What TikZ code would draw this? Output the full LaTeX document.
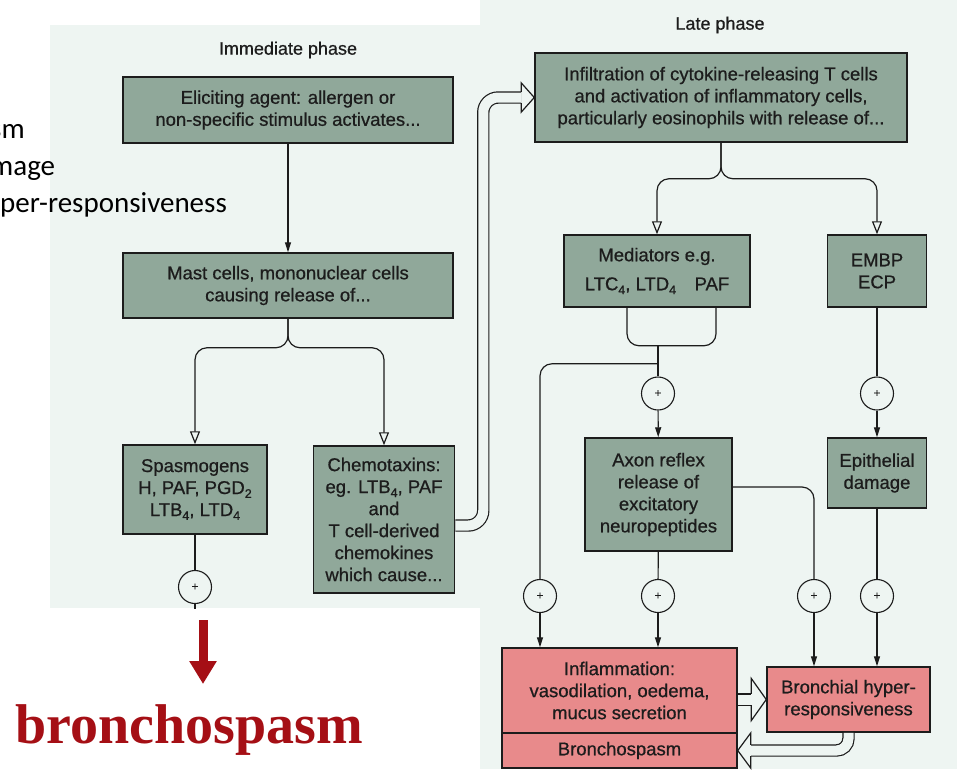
\documentclass[tikz,border=0pt]{standalone}
\usepackage{fontspec}
\setmainfont{Liberation Sans}
\newfontfamily\heavy{Liberation Sans}[FakeBold=0.7]
\newfontfamily\calib{Carlito}
\newfontfamily\serifface{Liberation Serif}
\usetikzlibrary{arrows.meta,calc}

\definecolor{pagebg}{HTML}{EEF5F2}
\definecolor{boxgreen}{HTML}{90A89A}
\definecolor{boxpink}{HTML}{E88A8B}
\definecolor{ink}{HTML}{1C1C1C}
\definecolor{alarm}{HTML}{A50F15}

% lowered small index figures (LTB4, PGD2 ...)
\newcommand\ix[1]{\raisebox{-0.4ex}{\fontsize{12.5}{12.5}\selectfont #1}}

\begin{document}
\begin{tikzpicture}[x=1pt,y=-1pt,
  every node/.style={text=ink},
  box/.style={draw=ink, line width=1.5pt, fill=boxgreen, align=center,
    inner sep=0pt, font=\heavy\fontsize{18.5}{22}\selectfont},
  pbox/.style={box, fill=boxpink},
  plus/.style={circle, draw=ink, line width=1.1pt, fill=pagebg,
    minimum size=33pt, inner sep=0pt, font=\heavy\fontsize{12}{12}\selectfont},
  conn/.style={draw=ink, line width=1.2pt},
  arr/.style={conn, -{Triangle[length=10pt,width=6pt]}},
  oarr/.style={conn, -{Triangle[open,length=13pt,width=10pt]}},
  dbl/.style={draw=ink, line width=1.2pt, double=pagebg, double distance=10pt},
  dblhead/.style={draw=ink, fill=pagebg, line width=1.2pt, line join=miter},
  title/.style={font=\heavy\fontsize{18}{18}\selectfont}
]
\useasboundingbox (0,0) rectangle (957,769);

% page backgrounds
\fill[white] (0,0) rectangle (957,769);
\fill[pagebg] (50,25) rectangle (480,608);
\fill[pagebg] (480,0) rectangle (957,769);

% list fragments at the left edge
\node[anchor=base west, inner sep=0pt, text=black, font=\calib\fontsize{29}{29}\selectfont] (lst1) at (-10,138) {sm};
\node[anchor=base west, inner sep=0pt, text=black, font=\calib\fontsize{29}{29}\selectfont] (lst2) at (-10,175) {mage};
\node[anchor=base west, inner sep=0pt, text=black, font=\calib\fontsize{29}{29}\selectfont] (lst3) at (0,212) {per-responsiveness};

% titles
\node[title] (imm) at (288,50) {Immediate phase};
\node[title] (late) at (720,25) {Late phase};

% immediate phase boxes
\node[box, minimum width=330pt, minimum height=66pt] (elicit) at (288,110)
  {Eliciting agent: allergen or\\non-specific stimulus activates...};
\node[box, minimum width=330pt, minimum height=65pt] (mast) at (288,285.5)
  {Mast cells, mononuclear cells\\causing release of...};
\node[box, minimum width=144pt, minimum height=89pt] (spasm) at (195,489.5)
  {Spasmogens\\H, PAF, PGD\ix{2}\\LTB\ix{4}, LTD\ix{4}};
\node[box, minimum width=141pt, minimum height=147pt] (chemo) at (384,519.5)
  {Chemotaxins:\\eg. LTB\ix{4}, PAF\\and\\T cell-derived\\chemokines\\which cause...};

% late phase boxes
\node[box, minimum width=372pt, minimum height=89pt] (infil) at (721,97.5)
  {Infiltration of cytokine-releasing T cells\\and activation of inflammatory cells,\\particularly eosinophils with release of...};
\node[box, minimum width=186pt, minimum height=72pt] (medi) at (657,271)
  {Mediators e.g.\\[7pt]LTC\ix{4}, LTD\ix{4}\quad PAF};
\node[box, minimum width=99pt, minimum height=72pt] (embp) at (877,271)
  {EMBP\\ECP};
\node[box, minimum width=147pt, minimum height=113pt] (axon) at (658.5,494.5)
  {Axon reflex\\release of\\excitatory\\neuropeptides};
\node[box, minimum width=99pt, minimum height=70pt] (epith) at (877,473)
  {Epithelial\\damage};
\node[pbox, minimum width=235pt, minimum height=85pt] (inflam) at (619.5,690.5)
  {Inflammation:\\vasodilation, oedema,\\mucus secretion};
\node[pbox, minimum width=235pt, minimum height=35pt] (bspasm) at (619.5,750.5)
  {Bronchospasm};
\node[pbox, minimum width=163pt, minimum height=65pt] (bhr) at (848.5,699.5)
  {Bronchial hyper-\\responsiveness};

% plus junctions
\node[plus] (p0) at (195,587) {+};
\node[plus] (p1) at (658,393.5) {+};
\node[plus] (p2) at (877,393.5) {+};
\node[plus] (p3) at (540,596) {+};
\node[plus] (p4) at (658,596) {+};
\node[plus] (p5) at (814,596) {+};
\node[plus] (p6) at (877,596) {+};

% immediate phase connectors
\draw[arr] (elicit) -- (mast);
\draw[oarr, rounded corners=12pt] (mast.south) -- ++(0,29) -| (spasm.north);
\draw[oarr, rounded corners=12pt] (mast.south) -- ++(0,29) -| (chemo.north);
\draw[conn] (spasm) -- (p0);
\draw[conn] (p0.south) -- ++(0,5);

% chemotaxins feed the late phase (hollow double arrow)
\draw[dbl, rounded corners=15pt] ($(chemo.east)+(0,6)$) -| ($(infil.west)+(-51,0)$) -- ($(infil.west)+(-13,0)$);
\filldraw[dblhead] ($(infil.west)+(-13,-5.6)$) -- ++(0,-9) -- (infil.west)
  -- ($(infil.west)+(-13,14.6)$) -- ++(0,-9);

% late phase connectors
\draw[oarr, rounded corners=12pt] (infil.south) -- ++(0,36) -| (medi.north);
\draw[oarr, rounded corners=12pt] (infil.south) -- ++(0,36) -| (embp.north);
\draw[conn, rounded corners=12pt] ($(medi.south)+(-30,0)$) -- ++(0,38) -| ($(medi.south)+(59,0)$);
\coordinate (mj) at ($(medi.south)+(1,38)$);
\coordinate (mb) at ($(medi.south)+(1,56)$);
\draw[conn] (mj) -- (p1);
\draw[arr] (p1) -- (axon);
\draw[conn, rounded corners=12pt] (mb) -| (p3);
\draw[arr] (p3) -- (p3 |- inflam.north);
\draw[conn] (embp) -- (p2);
\draw[arr] (p2) -- (epith);
\draw[conn] (axon) -- (p4);
\draw[arr] (p4) -- (p4 |- inflam.north);
\draw[conn, rounded corners=12pt] ($(axon.east)+(0,-7.5)$) -| (p5);
\draw[arr] (p5) -- (p5 |- bhr.north);
\draw[conn] (epith) -- (p6);
\draw[arr] (p6) -- (p6 |- bhr.north);

% inflammation -> hyper-responsiveness
\draw[dbl] (inflam.east |- bhr.west) -- ($(bhr.west)+(-15,0)$);
\filldraw[dblhead] ($(bhr.west)+(-15,-5.6)$) -- ++(0,-15.5) -- (bhr.west)
  -- ($(bhr.west)+(-15,21.1)$) -- ++(0,-15.5);

% hyper-responsiveness -> bronchospasm
\draw[dbl, rounded corners=12pt] (bhr.south) |- ($(bspasm.east)+(13,0)$);
\filldraw[dblhead] ($(bspasm.east)+(13,-5.6)$) -- ++(0,-12) -- (bspasm.east)
  -- ($(bspasm.east)+(13,17.6)$) -- ++(0,-12);

% red outcome arrow and label
\coordinate (rtop) at (203,620);
\coordinate (rtip) at (203,684);
\draw[alarm, line width=9pt, -{Triangle[length=23pt,width=26pt]}] (rtop) -- (rtip);
\node[anchor=base west, inner sep=0pt, text=alarm,
  font=\serifface\bfseries\fontsize{56}{56}\selectfont] (bsp) at (15,743) {bronchospasm};
\end{tikzpicture}
\end{document}
